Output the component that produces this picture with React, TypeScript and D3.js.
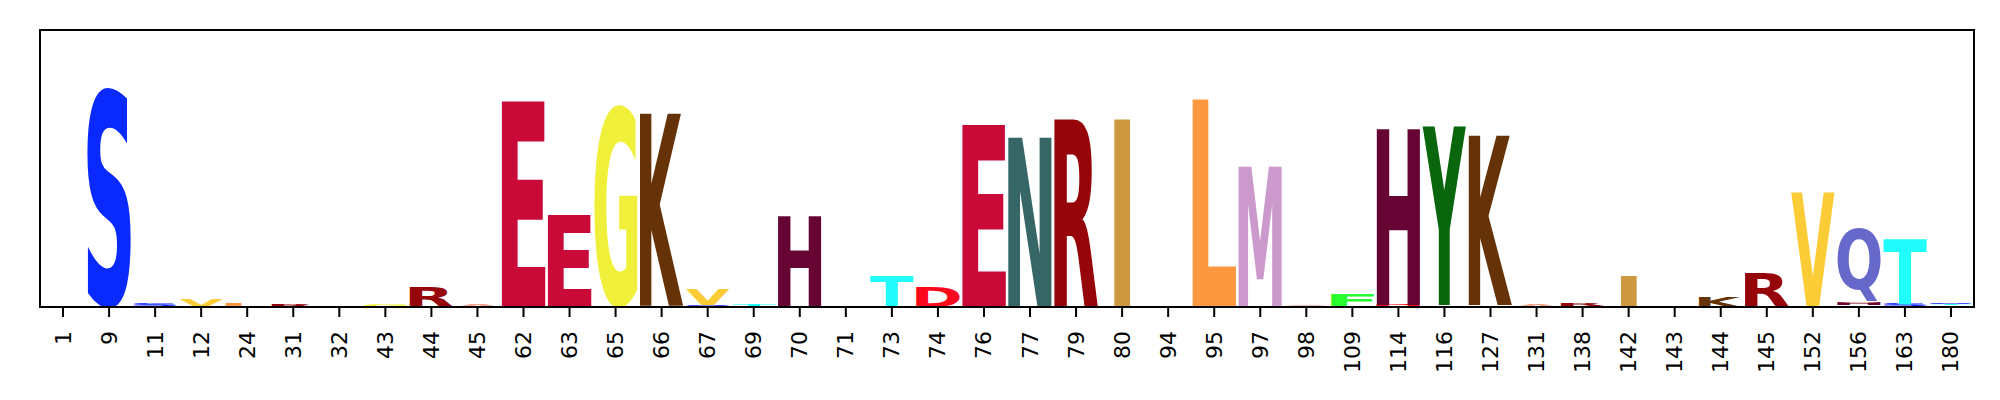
import React, { useMemo } from 'react';
import * as d3 from 'd3';

// Tick labels (sequence positions)
const positions: string[] = ['1','9','11','12','24','31','32','43','44','45','62','63','65','66','67','69','70','71','73','74','76','77','79','80','94','95','97','98','109','114','116','127','131','138','142','143','144','145','152','156','163','180'];

// Letters in each column, bottom to top
const letters: string[][] = [
  ['G'], ['S'], ['T','S'], ['V'], ['L'], ['R'], ['A'], ['G'], ['R'], ['A'],
  ['E'], ['E'], ['G'], ['G','K'], ['T','S','V'], ['T'], ['D','H'], [], ['T'], ['D'],
  ['E'], ['N'], ['R'], ['I'], [], ['L'], ['D','M'], ['D','A'], ['F'], ['D','H'],
  ['V','Y'], ['E','K'], ['A'], ['T','R'], ['D','I'], ['H'], ['K'], ['A','R'], ['N','V'], ['V','H','A','Q'],
  ['R','S','T'], ['A','T','S'],
];

// Letter heights (bits), matching `letters`
const heights: number[][] = [
  [0.02],[3.45],[0.015,0.035],[0.11],[0.05],[0.03],[0.015],[0.045],[0.30],[0.04],
  [3.21],[1.45],[3.18],[0.02,3.0],[0.01,0.02,0.25],[0.04],[0.02,1.40],[],[0.5],[0.31],
  [2.85],[2.64],[2.93],[2.93],[],[3.24],[0.02,2.17],[0.015,0.015],[0.2],[0.03,2.74],
  [0.025,2.78],[0.025,2.64],[0.045],[0.02,0.045],[0.015,0.47],[0.025],[0.165],[0.012,0.5],[0.015,1.76],[0.025,0.04,0.025,1.14],
  [0.015,0.03,1.03],[0.025,0.025,0.025],
];

const yMax = 4.32;

const letterColors: Record<string, string> = {
  S: '#0A29FC', E: '#C90A38', G: '#F0F03B', K: '#663308', H: '#660533',
  T: '#21FCFC', D: '#FC081C', N: '#366666', R: '#960509', I: '#CC9940',
  L: '#FC9940', M: '#CC99CC', F: '#29FC2E', Y: '#0A660D', V: '#FCCC36',
  Q: '#6669C9', A: '#F5A08A',
};

const FONT = "'DejaVu Sans', 'Liberation Sans', sans-serif";
const FS = 100;

type Metric = { l: number; r: number; a: number; d: number };

function useGlyphMetrics(): Record<string, Metric> {
  return useMemo(() => {
    const canvas = document.createElement('canvas');
    const ctx = canvas.getContext('2d')!;
    ctx.font = `bold ${FS}px ${FONT}`;
    const out: Record<string, Metric> = {};
    Object.keys(letterColors).forEach((ch) => {
      const m = ctx.measureText(ch);
      out[ch] = {
        l: m.actualBoundingBoxLeft,
        r: m.actualBoundingBoxRight,
        a: m.actualBoundingBoxAscent,
        d: m.actualBoundingBoxDescent,
      };
    });
    return out;
  }, []);
}

export default function App() {
  const W = 2000, H = 400;
  const left = 40, right = 1974, top = 30, bottom = 307;
  const metrics = useGlyphMetrics();

  const x = d3.scaleLinear().domain([-0.5, positions.length - 0.5]).range([left, right]);
  const y = d3.scaleLinear().domain([0, yMax]).range([bottom, top]);
  const band = x(1) - x(0);
  const gw = band * 0.945;
  const eM = metrics['E'];
  const maxSx = gw / (eM.l + eM.r);

  const glyphs: JSX.Element[] = [];
  letters.forEach((col, i) => {
    let acc = 0;
    col.forEach((ch, j) => {
      const v = heights[i][j];
      const y0 = y(acc + v);
      const y1 = y(acc);
      acc += v;
      const m = metrics[ch];
      const inkW = m.l + m.r;
      const sx = Math.min(gw / inkW, maxSx);
      const w = inkW * sx;
      const gx = x(i) - w / 2;
      const gh = y1 - y0;
      const sy = gh / (m.a + m.d);
      glyphs.push(
        <text
          key={`${i}-${j}`}
          transform={`translate(${gx},${y0}) scale(${sx},${sy}) translate(${m.l},${m.a})`}
          fontFamily={FONT}
          fontWeight="bold"
          fontSize={FS}
          fill={letterColors[ch]}
        >
          {ch}
        </text>
      );
    });
  });

  return (
    <svg width={W} height={H} style={{ position: 'absolute', left: 0, top: 0, background: '#fff' }}>
      {glyphs}
      <rect x={left} y={top} width={right - left} height={bottom - top} fill="none" stroke="#000" strokeWidth={2} />
      {positions.map((p, i) => (
        <g key={p} transform={`translate(${x(i)},${bottom})`}>
          <line y1={0} y2={10} stroke="#000" strokeWidth={2} />
          <text
            transform="translate(0,24) rotate(-90)"
            textAnchor="end"
            dominantBaseline="central"
            fontFamily="'DejaVu Sans', sans-serif"
            fontSize={22}
            fill="#000"
          >
            {p}
          </text>
        </g>
      ))}
    </svg>
  );
}
